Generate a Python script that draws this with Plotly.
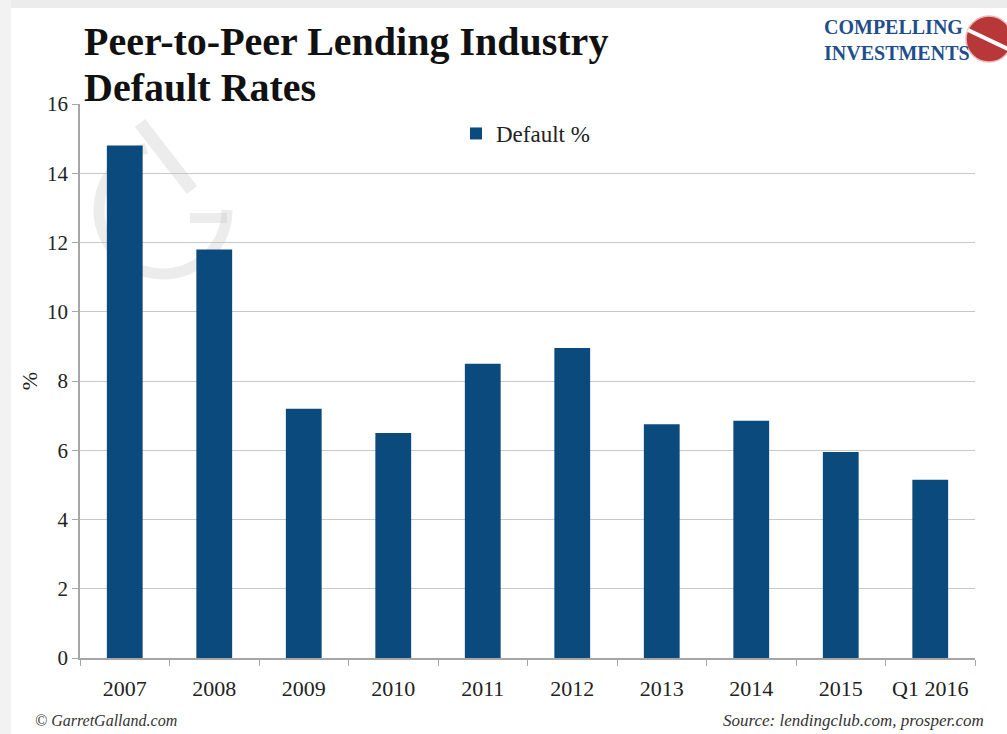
import math
import plotly.graph_objects as go

# Default rates by year (percent)
years = ["2007", "2008", "2009", "2010", "2011", "2012", "2013", "2014", "2015", "Q1 2016"]
default_pct = [14.8, 11.8, 7.2, 6.5, 8.5, 8.95, 6.75, 6.85, 5.95, 5.15]
y_ticks = [0, 2, 4, 6, 8, 10, 12, 14, 16]

BAR = "#0b4a7d"
SERIF = "Liberation Serif, DejaVu Serif, serif"

W, H = 1007, 734
ML, MR, MT, MB = 80, 32, 104, 76
PW, PH = W - ML - MR, H - MT - MB


def px(xp):
    """Horizontal pixel position -> paper fraction."""
    return (xp - ML) / PW


def py(yp):
    """Vertical pixel position (from top) -> paper fraction."""
    return (H - MB - yp) / PH


fig = go.Figure()
fig.add_trace(go.Bar(
    x=years, y=default_pct, name="Default %",
    marker=dict(color=BAR, line=dict(width=0)),
))

fig.update_layout(
    width=W, height=H,
    margin=dict(l=ML, r=MR, t=MT, b=MB, autoexpand=False),
    paper_bgcolor="white", plot_bgcolor="white",
    bargap=0.6,
    showlegend=True,
    legend=dict(x=px(456), y=py(112), xanchor="left", yanchor="top",
                font=dict(family=SERIF, size=23, color="#222"),
                bgcolor="rgba(0,0,0,0)", itemwidth=30),
    font=dict(family=SERIF, color="#222"),
)

fig.update_xaxes(
    type="category", showgrid=False, automargin=False,
    showline=True, linecolor="#a6a6a6", linewidth=1.5,
    ticks="outside", tickson="boundaries", ticklen=6, tickcolor="#a6a6a6",
    ticklabelstandoff=10,
    tickfont=dict(family=SERIF, size=22, color="#222"),
)
fig.update_yaxes(
    range=[0, 16], tickvals=y_ticks, automargin=False,
    showgrid=True, gridcolor="#c8c8c8", gridwidth=1.2,
    showline=True, linecolor="#a6a6a6", linewidth=1.5,
    ticks="outside", ticklen=6, tickcolor="#a6a6a6",
    tickfont=dict(family=SERIF, size=21, color="#222"),
    zeroline=False,
    title=dict(text="%", font=dict(family=SERIF, size=22, color="#222"), standoff=3),
)

# Title, two lines set individually for tight leading
fig.add_annotation(
    xref="paper", yref="paper", x=px(82), y=py(42), xanchor="left", yanchor="middle",
    align="left", showarrow=False,
    text="<b>Peer-to-Peer Lending Industry</b>",
    font=dict(family=SERIF, size=40, color="#111"),
)
fig.add_annotation(
    xref="paper", yref="paper", x=px(82), y=py(87), xanchor="left", yanchor="middle",
    align="left", showarrow=False,
    text="<b>Default Rates</b>",
    font=dict(family=SERIF, size=40, color="#111"),
)

# Brand mark top right
fig.add_annotation(
    xref="paper", yref="paper", x=px(972), y=py(14),
    xanchor="right", yanchor="top", align="left", showarrow=False,
    text="<b>COMPELLING<br>INVESTMENTS</b>",
    font=dict(family=SERIF, size=20, color="#1f4e8c"),
)
fig.add_shape(type="circle", xref="paper", yref="paper",
              x0=px(966), x1=px(1012), y0=py(62), y1=py(16),
              fillcolor="#b8383a", line=dict(color="#e8b8b8", width=1.5), layer="above")
fig.add_shape(type="line", xref="paper", yref="paper",
              x0=px(968), x1=px(1010), y0=py(30), y1=py(50),
              line=dict(color="white", width=4), layer="above")

# Faint "G" watermark behind the first bars
cx, cy, r = 163, 210, 64
arc = []
for k in range(0, 61):
    a = math.radians(105 + k * (255 / 60))
    arc.append((px(cx + r * math.cos(a)), py(cy - r * math.sin(a))))
arc_path = "M " + " L ".join(f"{x:.4f},{y:.4f}" for x, y in arc)
wm = "rgba(200,200,200,0.35)"
fig.add_shape(type="path", xref="paper", yref="paper", path=arc_path,
              line=dict(color=wm, width=11), layer="below")
fig.add_shape(type="line", xref="paper", yref="paper",
              x0=px(190), x1=px(227), y0=py(218), y1=py(218),
              line=dict(color=wm, width=10), layer="below")
fig.add_shape(type="line", xref="paper", yref="paper",
              x0=px(140), x1=px(192), y0=py(123), y1=py(190),
              line=dict(color=wm, width=13), layer="below")

# Footer text
fig.add_annotation(
    xref="paper", yref="paper", x=px(33), y=py(720),
    xanchor="left", yanchor="middle", showarrow=False,
    text="<i>© GarretGalland.com</i>",
    font=dict(family=SERIF, size=16, color="#333"),
)
fig.add_annotation(
    xref="paper", yref="paper", x=px(986), y=py(720),
    xanchor="right", yanchor="middle", showarrow=False,
    text="<i>Source: lendingclub.com, prosper.com</i>",
    font=dict(family=SERIF, size=17, color="#333"),
)

# Page shadow along the top and left edges
fig.add_shape(type="rect", xref="paper", yref="paper",
              x0=px(0), x1=px(W), y0=py(8), y1=py(0),
              fillcolor="#ececec", line=dict(width=0), layer="below")
fig.add_shape(type="rect", xref="paper", yref="paper",
              x0=px(0), x1=px(11), y0=py(H), y1=py(0),
              fillcolor="#f2f2f2", line=dict(width=0), layer="below")

fig.write_html("out.html")
